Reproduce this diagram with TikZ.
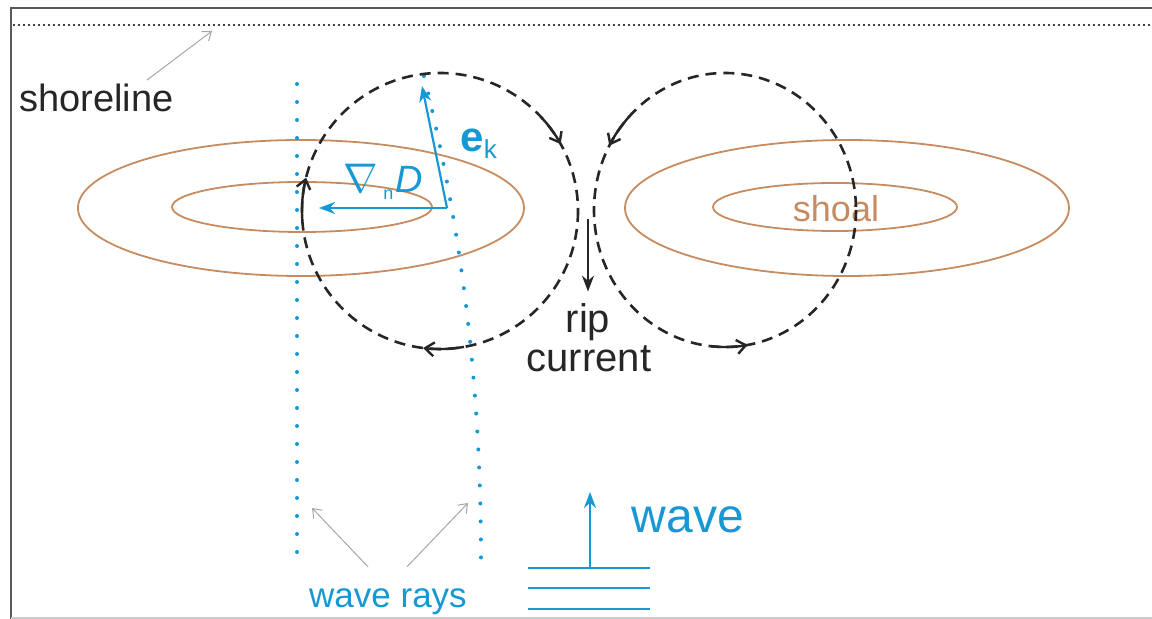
\documentclass[tikz,border=0pt]{standalone}
\usepackage{fontspec}
\setmainfont{Liberation Sans}
\usetikzlibrary{arrows.meta, positioning, calc}
\definecolor{raycyan}{RGB}{22,152,212}
\definecolor{shoalbrown}{RGB}{198,140,96}

\begin{document}
\begin{tikzpicture}[x=0.5pt, y=-0.5pt,
    cell/.style={black!85, line width=1.3pt, dash pattern=on 5.5pt off 3.5pt},
    swirl/.style={black!85, line width=1.2pt, -{Straight Barb[length=4.5pt, width=7pt]}},
    contour/.style={shoalbrown, line width=0.9pt},
    ray/.style={raycyan, line width=2pt, line cap=round, dash pattern=on 0pt off 9pt},
    vec/.style={raycyan, line width=1.1pt, -{Stealth[length=8pt, width=6pt]}},
    pointer/.style={black!35, line width=0.5pt, -{Straight Barb[length=4pt, width=6pt]}},
    lab/.style={inner sep=0pt, anchor=base}
  ]
  \useasboundingbox (0,0) rectangle (1152,619);
  \draw[black!65, line width=1.1pt] (1152,8) -- (11,8) -- (11,619);
  \draw[black!20, line width=1pt] (11,618) -- (1152,618);
  \draw[black!75, line width=0.9pt, dash pattern=on 1.2pt off 1.3pt] (13,25) -- (1152,25);

  \node[lab, anchor=base west, black!85, font=\fontsize{19}{22}\selectfont] (shore) at (19,112) {shoreline};
  \coordinate (shoreTip) at (212,31);
  \draw[pointer] ([xshift=-13.5pt, yshift=2pt]shore.north east) -- (shoreTip);

  \draw[contour] (301,208) ellipse [x radius=223, y radius=68];
  \draw[contour] (302,207) ellipse [x radius=130, y radius=25];
  \draw[contour] (847,208) ellipse [x radius=222, y radius=68];
  \draw[contour] (835,207) ellipse [x radius=122, y radius=24];
  \node[lab, shoalbrown, font=\fontsize{18}{20}\selectfont] (shoal) at (836,222) {shoal};

  \draw[ray] (297,84) -- (297,558);
  \draw[ray] (424,76) .. controls (452,190) and (481,350) .. (481,558);

  \coordinate (cL) at (440,211);
  \coordinate (cR) at (725,210);
  \draw[cell] (cL) circle [radius=138];
  \draw[cell] (cR) ellipse [x radius=131, y radius=137];
  \draw[swirl] (cL) ++(-43:138) arc [start angle=-43, end angle=-29, radius=138];
  \draw[swirl] (cL) ++(80:138) arc [start angle=80, end angle=97, radius=138];
  \draw[swirl] (cL) ++(176:138) arc [start angle=176, end angle=194, radius=138];
  \draw[swirl] (cR) ++(-137:131 and 137) arc [start angle=-137, end angle=-152, x radius=131, y radius=137];
  \draw[swirl] (cR) ++(96:131 and 137) arc [start angle=96, end angle=80, x radius=131, y radius=137];

  \node[lab, black!85, font=\fontsize{20}{22}\selectfont] (rip) at (588,333) {rip};
  \node[lab, black!85, font=\fontsize{20}{22}\selectfont] (current) at (589,372) {current};
  \coordinate (ripTop) at (588,219);
  \draw[black!85, line width=1.1pt, -{Stealth[length=8pt, width=6pt]}] (ripTop) -- ([yshift=6pt]rip.north);

  \coordinate (corner) at (447,208);
  \coordinate (ekTip) at (422,86);
  \coordinate (gradTip) at (319,208);
  \draw[vec] (corner) -- (ekTip);
  \draw[vec] (corner) -- (gradTip);
  \node[lab, anchor=base west, raycyan, font=\fontsize{21}{24}\selectfont] (ek) at (460,152)
    {\textbf{e}{\fontsize{13}{15}\selectfont\raisebox{-3.5pt}{k}}};
  \node[lab, raycyan, font=\fontsize{22}{24}\selectfont] (nabla) at (361,193) {$\nabla$};
  \node[lab, anchor=base west, raycyan, font=\fontsize{9}{10}\selectfont] (sub) at (383,200) {n};
  \node[lab, anchor=base west, raycyan, font=\itshape\fontsize{19}{21}\selectfont] (dep) at (395,193) {D};

  \foreach \y in {568,588,609} {
    \draw[raycyan, line width=1.1pt] (528,\y) -- (650,\y);
  }
  \coordinate (crest) at (590,567);
  \coordinate (waveTip) at (590,492);
  \draw[vec] (crest) -- (waveTip);
  \node[lab, raycyan, font=\fontsize{24}{27}\selectfont] (wave) at (688,533) {wave};

  \node[lab, raycyan, font=\fontsize{17.5}{20}\selectfont] (rays) at (388,608) {wave rays};
  \coordinate (rayTipL) at (312,508);
  \coordinate (rayTipR) at (468,503);
  \draw[pointer] ([xshift=-10pt, yshift=11pt]rays.north) -- (rayTipL);
  \draw[pointer] ([xshift=9.5pt, yshift=11pt]rays.north) -- (rayTipR);
\end{tikzpicture}
\end{document}
